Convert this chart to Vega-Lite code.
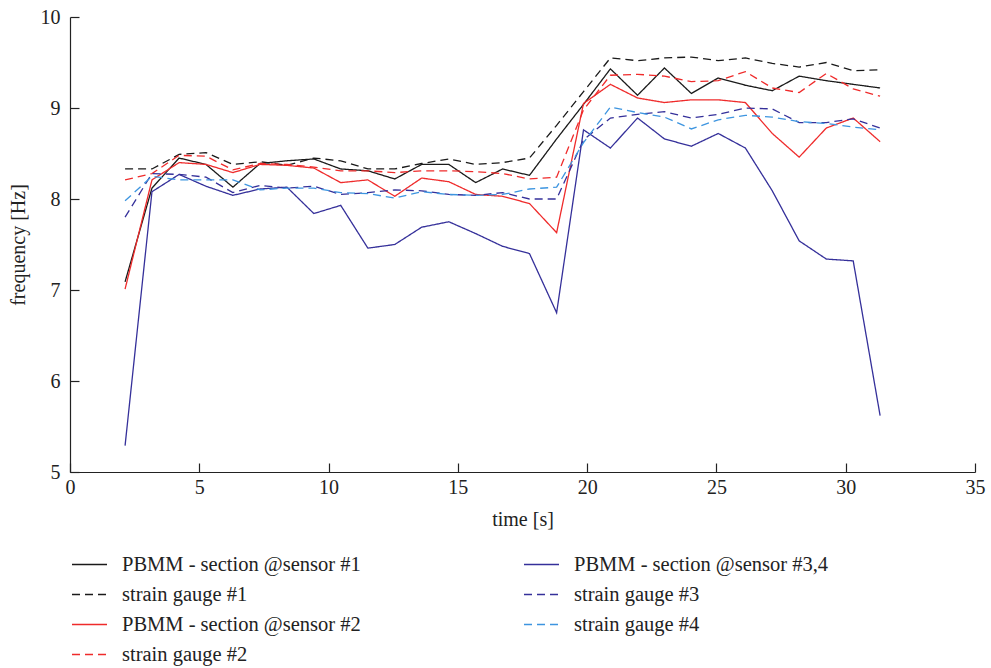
{
"$schema": "https://vega.github.io/schema/vega-lite/v6.json",
"width": 905, "height": 455,
"autosize": {"type": "none"},
"padding": {"left": 70, "top": 17, "right": 16, "bottom": 196},
"config": {
  "font": "Liberation Serif",
  "view": {"stroke": null},
  "axis": {"domainColor": "#222", "tickColor": "#222", "labelColor": "#222", "titleColor": "#222", "labelFontSize": 20, "titleFontSize": 20, "titleFontWeight": "normal", "grid": false, "tickSize": -9, "domainWidth": 1.2, "tickWidth": 1.2, "labelFont": "Liberation Serif", "titleFont": "Liberation Serif"}
},
"data": {"values": [
{"s":"PBMM - section @sensor #1","t":2.13,"f":7.09},{"s":"PBMM - section @sensor #1","t":3.17,"f":8.12},{"s":"PBMM - section @sensor #1","t":4.22,"f":8.45},{"s":"PBMM - section @sensor #1","t":5.26,"f":8.38},{"s":"PBMM - section @sensor #1","t":6.30,"f":8.13},{"s":"PBMM - section @sensor #1","t":7.35,"f":8.39},{"s":"PBMM - section @sensor #1","t":8.39,"f":8.42},{"s":"PBMM - section @sensor #1","t":9.43,"f":8.44},{"s":"PBMM - section @sensor #1","t":10.47,"f":8.33},{"s":"PBMM - section @sensor #1","t":11.52,"f":8.31},{"s":"PBMM - section @sensor #1","t":12.56,"f":8.22},{"s":"PBMM - section @sensor #1","t":13.60,"f":8.38},{"s":"PBMM - section @sensor #1","t":14.65,"f":8.38},{"s":"PBMM - section @sensor #1","t":15.69,"f":8.18},{"s":"PBMM - section @sensor #1","t":16.73,"f":8.33},{"s":"PBMM - section @sensor #1","t":17.77,"f":8.26},{"s":"PBMM - section @sensor #1","t":18.82,"f":8.66},{"s":"PBMM - section @sensor #1","t":19.86,"f":9.04},{"s":"PBMM - section @sensor #1","t":20.90,"f":9.43},{"s":"PBMM - section @sensor #1","t":21.95,"f":9.14},{"s":"PBMM - section @sensor #1","t":22.99,"f":9.44},{"s":"PBMM - section @sensor #1","t":24.03,"f":9.16},{"s":"PBMM - section @sensor #1","t":25.07,"f":9.33},{"s":"PBMM - section @sensor #1","t":26.12,"f":9.25},{"s":"PBMM - section @sensor #1","t":27.16,"f":9.19},{"s":"PBMM - section @sensor #1","t":28.20,"f":9.35},{"s":"PBMM - section @sensor #1","t":29.25,"f":9.30},{"s":"PBMM - section @sensor #1","t":30.29,"f":9.26},{"s":"PBMM - section @sensor #1","t":31.33,"f":9.22},
{"s":"strain gauge #1","t":2.13,"f":8.33},{"s":"strain gauge #1","t":3.17,"f":8.33},{"s":"strain gauge #1","t":4.22,"f":8.49},{"s":"strain gauge #1","t":5.26,"f":8.51},{"s":"strain gauge #1","t":6.30,"f":8.38},{"s":"strain gauge #1","t":7.35,"f":8.41},{"s":"strain gauge #1","t":8.39,"f":8.37},{"s":"strain gauge #1","t":9.43,"f":8.45},{"s":"strain gauge #1","t":10.47,"f":8.42},{"s":"strain gauge #1","t":11.52,"f":8.33},{"s":"strain gauge #1","t":12.56,"f":8.33},{"s":"strain gauge #1","t":13.60,"f":8.39},{"s":"strain gauge #1","t":14.65,"f":8.44},{"s":"strain gauge #1","t":15.69,"f":8.38},{"s":"strain gauge #1","t":16.73,"f":8.40},{"s":"strain gauge #1","t":17.77,"f":8.45},{"s":"strain gauge #1","t":18.82,"f":8.81},{"s":"strain gauge #1","t":19.86,"f":9.18},{"s":"strain gauge #1","t":20.90,"f":9.55},{"s":"strain gauge #1","t":21.95,"f":9.52},{"s":"strain gauge #1","t":22.99,"f":9.55},{"s":"strain gauge #1","t":24.03,"f":9.56},{"s":"strain gauge #1","t":25.07,"f":9.52},{"s":"strain gauge #1","t":26.12,"f":9.55},{"s":"strain gauge #1","t":27.16,"f":9.49},{"s":"strain gauge #1","t":28.20,"f":9.45},{"s":"strain gauge #1","t":29.25,"f":9.50},{"s":"strain gauge #1","t":30.29,"f":9.41},{"s":"strain gauge #1","t":31.33,"f":9.42},
{"s":"PBMM - section @sensor #2","t":2.13,"f":7.01},{"s":"PBMM - section @sensor #2","t":3.17,"f":8.21},{"s":"PBMM - section @sensor #2","t":4.22,"f":8.40},{"s":"PBMM - section @sensor #2","t":5.26,"f":8.38},{"s":"PBMM - section @sensor #2","t":6.30,"f":8.29},{"s":"PBMM - section @sensor #2","t":7.35,"f":8.38},{"s":"PBMM - section @sensor #2","t":8.39,"f":8.37},{"s":"PBMM - section @sensor #2","t":9.43,"f":8.34},{"s":"PBMM - section @sensor #2","t":10.47,"f":8.18},{"s":"PBMM - section @sensor #2","t":11.52,"f":8.21},{"s":"PBMM - section @sensor #2","t":12.56,"f":8.03},{"s":"PBMM - section @sensor #2","t":13.60,"f":8.23},{"s":"PBMM - section @sensor #2","t":14.65,"f":8.19},{"s":"PBMM - section @sensor #2","t":15.69,"f":8.05},{"s":"PBMM - section @sensor #2","t":16.73,"f":8.03},{"s":"PBMM - section @sensor #2","t":17.77,"f":7.95},{"s":"PBMM - section @sensor #2","t":18.82,"f":7.63},{"s":"PBMM - section @sensor #2","t":19.86,"f":9.05},{"s":"PBMM - section @sensor #2","t":20.90,"f":9.26},{"s":"PBMM - section @sensor #2","t":21.95,"f":9.11},{"s":"PBMM - section @sensor #2","t":22.99,"f":9.06},{"s":"PBMM - section @sensor #2","t":24.03,"f":9.09},{"s":"PBMM - section @sensor #2","t":25.07,"f":9.09},{"s":"PBMM - section @sensor #2","t":26.12,"f":9.06},{"s":"PBMM - section @sensor #2","t":27.16,"f":8.72},{"s":"PBMM - section @sensor #2","t":28.20,"f":8.46},{"s":"PBMM - section @sensor #2","t":29.25,"f":8.78},{"s":"PBMM - section @sensor #2","t":30.29,"f":8.89},{"s":"PBMM - section @sensor #2","t":31.33,"f":8.63},
{"s":"strain gauge #2","t":2.13,"f":8.21},{"s":"strain gauge #2","t":3.17,"f":8.28},{"s":"strain gauge #2","t":4.22,"f":8.48},{"s":"strain gauge #2","t":5.26,"f":8.47},{"s":"strain gauge #2","t":6.30,"f":8.32},{"s":"strain gauge #2","t":7.35,"f":8.39},{"s":"strain gauge #2","t":8.39,"f":8.38},{"s":"strain gauge #2","t":9.43,"f":8.35},{"s":"strain gauge #2","t":10.47,"f":8.31},{"s":"strain gauge #2","t":11.52,"f":8.31},{"s":"strain gauge #2","t":12.56,"f":8.29},{"s":"strain gauge #2","t":13.60,"f":8.31},{"s":"strain gauge #2","t":14.65,"f":8.31},{"s":"strain gauge #2","t":15.69,"f":8.30},{"s":"strain gauge #2","t":16.73,"f":8.28},{"s":"strain gauge #2","t":17.77,"f":8.22},{"s":"strain gauge #2","t":18.82,"f":8.24},{"s":"strain gauge #2","t":19.86,"f":8.98},{"s":"strain gauge #2","t":20.90,"f":9.36},{"s":"strain gauge #2","t":21.95,"f":9.37},{"s":"strain gauge #2","t":22.99,"f":9.35},{"s":"strain gauge #2","t":24.03,"f":9.29},{"s":"strain gauge #2","t":25.07,"f":9.30},{"s":"strain gauge #2","t":26.12,"f":9.40},{"s":"strain gauge #2","t":27.16,"f":9.22},{"s":"strain gauge #2","t":28.20,"f":9.17},{"s":"strain gauge #2","t":29.25,"f":9.38},{"s":"strain gauge #2","t":30.29,"f":9.21},{"s":"strain gauge #2","t":31.33,"f":9.13},
{"s":"PBMM - section @sensor #3,4","t":2.13,"f":5.29},{"s":"PBMM - section @sensor #3,4","t":3.17,"f":8.08},{"s":"PBMM - section @sensor #3,4","t":4.22,"f":8.27},{"s":"PBMM - section @sensor #3,4","t":5.26,"f":8.14},{"s":"PBMM - section @sensor #3,4","t":6.30,"f":8.04},{"s":"PBMM - section @sensor #3,4","t":7.35,"f":8.11},{"s":"PBMM - section @sensor #3,4","t":8.39,"f":8.13},{"s":"PBMM - section @sensor #3,4","t":9.43,"f":7.84},{"s":"PBMM - section @sensor #3,4","t":10.47,"f":7.93},{"s":"PBMM - section @sensor #3,4","t":11.52,"f":7.46},{"s":"PBMM - section @sensor #3,4","t":12.56,"f":7.50},{"s":"PBMM - section @sensor #3,4","t":13.60,"f":7.69},{"s":"PBMM - section @sensor #3,4","t":14.65,"f":7.75},{"s":"PBMM - section @sensor #3,4","t":15.69,"f":7.62},{"s":"PBMM - section @sensor #3,4","t":16.73,"f":7.48},{"s":"PBMM - section @sensor #3,4","t":17.77,"f":7.40},{"s":"PBMM - section @sensor #3,4","t":18.82,"f":6.75},{"s":"PBMM - section @sensor #3,4","t":19.86,"f":8.76},{"s":"PBMM - section @sensor #3,4","t":20.90,"f":8.56},{"s":"PBMM - section @sensor #3,4","t":21.95,"f":8.89},{"s":"PBMM - section @sensor #3,4","t":22.99,"f":8.66},{"s":"PBMM - section @sensor #3,4","t":24.03,"f":8.58},{"s":"PBMM - section @sensor #3,4","t":25.07,"f":8.72},{"s":"PBMM - section @sensor #3,4","t":26.12,"f":8.56},{"s":"PBMM - section @sensor #3,4","t":27.16,"f":8.09},{"s":"PBMM - section @sensor #3,4","t":28.20,"f":7.54},{"s":"PBMM - section @sensor #3,4","t":29.25,"f":7.34},{"s":"PBMM - section @sensor #3,4","t":30.29,"f":7.32},{"s":"PBMM - section @sensor #3,4","t":31.33,"f":5.62},
{"s":"strain gauge #3","t":2.13,"f":7.80},{"s":"strain gauge #3","t":3.17,"f":8.28},{"s":"strain gauge #3","t":4.22,"f":8.27},{"s":"strain gauge #3","t":5.26,"f":8.24},{"s":"strain gauge #3","t":6.30,"f":8.07},{"s":"strain gauge #3","t":7.35,"f":8.15},{"s":"strain gauge #3","t":8.39,"f":8.12},{"s":"strain gauge #3","t":9.43,"f":8.14},{"s":"strain gauge #3","t":10.47,"f":8.05},{"s":"strain gauge #3","t":11.52,"f":8.07},{"s":"strain gauge #3","t":12.56,"f":8.10},{"s":"strain gauge #3","t":13.60,"f":8.09},{"s":"strain gauge #3","t":14.65,"f":8.05},{"s":"strain gauge #3","t":15.69,"f":8.04},{"s":"strain gauge #3","t":16.73,"f":8.07},{"s":"strain gauge #3","t":17.77,"f":8.00},{"s":"strain gauge #3","t":18.82,"f":8.00},{"s":"strain gauge #3","t":19.86,"f":8.65},{"s":"strain gauge #3","t":20.90,"f":8.89},{"s":"strain gauge #3","t":21.95,"f":8.93},{"s":"strain gauge #3","t":22.99,"f":8.96},{"s":"strain gauge #3","t":24.03,"f":8.89},{"s":"strain gauge #3","t":25.07,"f":8.93},{"s":"strain gauge #3","t":26.12,"f":9.00},{"s":"strain gauge #3","t":27.16,"f":8.99},{"s":"strain gauge #3","t":28.20,"f":8.84},{"s":"strain gauge #3","t":29.25,"f":8.84},{"s":"strain gauge #3","t":30.29,"f":8.88},{"s":"strain gauge #3","t":31.33,"f":8.78},
{"s":"strain gauge #4","t":2.13,"f":7.98},{"s":"strain gauge #4","t":3.17,"f":8.25},{"s":"strain gauge #4","t":4.22,"f":8.21},{"s":"strain gauge #4","t":5.26,"f":8.21},{"s":"strain gauge #4","t":6.30,"f":8.21},{"s":"strain gauge #4","t":7.35,"f":8.10},{"s":"strain gauge #4","t":8.39,"f":8.12},{"s":"strain gauge #4","t":9.43,"f":8.12},{"s":"strain gauge #4","t":10.47,"f":8.07},{"s":"strain gauge #4","t":11.52,"f":8.06},{"s":"strain gauge #4","t":12.56,"f":8.01},{"s":"strain gauge #4","t":13.60,"f":8.08},{"s":"strain gauge #4","t":14.65,"f":8.05},{"s":"strain gauge #4","t":15.69,"f":8.04},{"s":"strain gauge #4","t":16.73,"f":8.05},{"s":"strain gauge #4","t":17.77,"f":8.11},{"s":"strain gauge #4","t":18.82,"f":8.13},{"s":"strain gauge #4","t":19.86,"f":8.62},{"s":"strain gauge #4","t":20.90,"f":9.01},{"s":"strain gauge #4","t":21.95,"f":8.95},{"s":"strain gauge #4","t":22.99,"f":8.90},{"s":"strain gauge #4","t":24.03,"f":8.77},{"s":"strain gauge #4","t":25.07,"f":8.87},{"s":"strain gauge #4","t":26.12,"f":8.92},{"s":"strain gauge #4","t":27.16,"f":8.90},{"s":"strain gauge #4","t":28.20,"f":8.85},{"s":"strain gauge #4","t":29.25,"f":8.83},{"s":"strain gauge #4","t":30.29,"f":8.79},{"s":"strain gauge #4","t":31.33,"f":8.76}
]},
"mark": {"type": "line", "strokeWidth": 1.3},
"encoding": {
  "x": {"field": "t", "type": "quantitative", "scale": {"domain": [0, 35], "nice": false, "zero": false},
        "axis": {"values": [0,5,10,15,20,25,30,35], "title": "time [s]", "labelPadding": 14, "titlePadding": 12, "labelFlush": false}},
  "y": {"field": "f", "type": "quantitative", "scale": {"domain": [5, 10], "nice": false, "zero": false},
        "axis": {"values": [5,6,7,8,9,10], "title": "frequency [Hz]", "labelPadding": 19, "titlePadding": 12, "labelFlush": false}},
  "color": {"field": "s", "type": "nominal",
    "sort": ["PBMM - section @sensor #1","strain gauge #1","PBMM - section @sensor #2","strain gauge #2","PBMM - section @sensor #3,4","strain gauge #3","strain gauge #4"],
    "scale": {"domain": ["PBMM - section @sensor #1","strain gauge #1","PBMM - section @sensor #2","strain gauge #2","PBMM - section @sensor #3,4","strain gauge #3","strain gauge #4"],
              "range": ["#1a1a1a","#1a1a1a","#ef2b2b","#ef2b2b","#35309a","#35309a","#3d95e0"]},
    "legend": {"title": null, "orient": "none", "legendX": 1, "legendY": 529, "columns": 2, "columnPadding": 160, "rowPadding": 1, "symbolType": "stroke", "symbolSize": 1225, "symbolStrokeWidth": 1.3, "labelOffset": 14, "labelFontSize": 20.5, "labelFont": "Liberation Serif", "labelColor": "#222", "labelLimit": 400}},
  "strokeDash": {"field": "s", "type": "nominal",
    "sort": ["PBMM - section @sensor #1","strain gauge #1","PBMM - section @sensor #2","strain gauge #2","PBMM - section @sensor #3,4","strain gauge #3","strain gauge #4"],
    "scale": {"domain": ["PBMM - section @sensor #1","strain gauge #1","PBMM - section @sensor #2","strain gauge #2","PBMM - section @sensor #3,4","strain gauge #3","strain gauge #4"],
              "range": [[1,0],[8,5],[1,0],[8,5],[1,0],[8,5],[8,5]]},
    "legend": {"title": null, "orient": "none", "legendX": 1, "legendY": 529, "columns": 2, "columnPadding": 160, "rowPadding": 1, "symbolType": "stroke", "symbolSize": 1225, "symbolStrokeWidth": 1.3, "labelOffset": 14, "labelFontSize": 20.5, "labelFont": "Liberation Serif", "labelColor": "#222", "labelLimit": 400}}
}
}
